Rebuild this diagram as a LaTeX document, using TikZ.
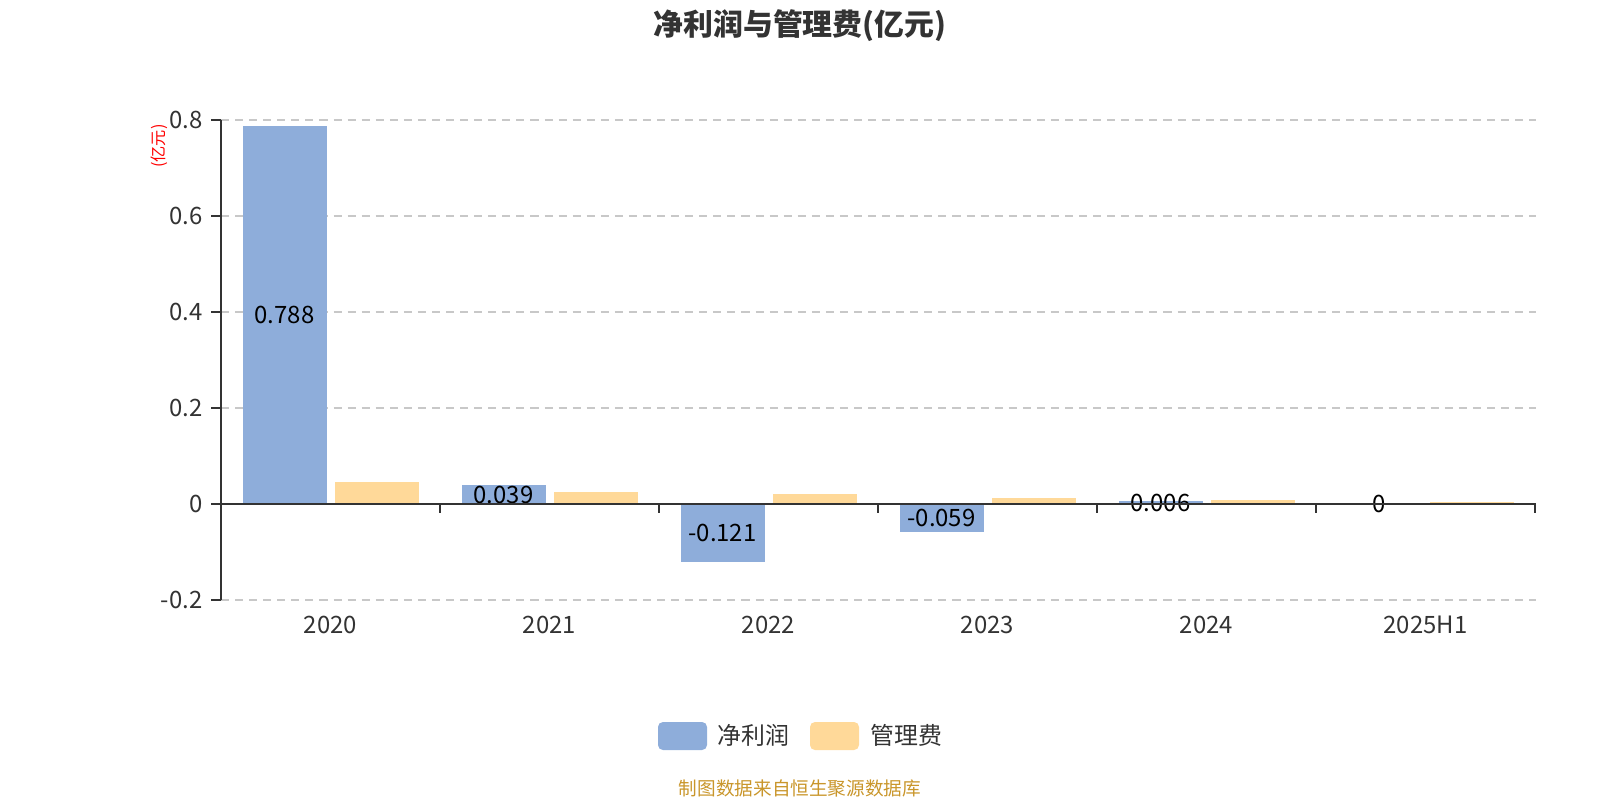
\documentclass[tikz,border=0pt]{standalone}
\usepackage{fontspec}
\setmainfont{Noto Sans CJK SC}
\usepackage{tikz}

\definecolor{netblue}{HTML}{8EADDA}
\definecolor{feeorange}{HTML}{FFD999}
\definecolor{axisgray}{HTML}{333333}
\definecolor{gridgray}{HTML}{C8C8C8}
\definecolor{footgold}{HTML}{C9962B}

\tikzset{
  gridline/.style={gridgray, line width=0.45pt, dash pattern=on 2.3pt off 1.7pt},
  axisline/.style={axisgray, line width=0.6pt},
  ticklabel/.style={text=axisgray, inner sep=0pt, font=\fontsize{6.8}{8}\selectfont},
  vallabel/.style={text=black, inner sep=0pt, font=\fontsize{6.8}{8}\selectfont},
  legendbox/.style={rounded corners=1.4pt},
}

\begin{document}
\begin{tikzpicture}[x=0.01cm, y=-0.01cm]  % one unit is one pixel, y runs down
    \useasboundingbox (0,0) rectangle (1600,800);

    % Title and unit
    \node[text=axisgray, font=\bfseries\fontsize{8.5}{10}\selectfont] (title) at (800,26) {净利润与管理费(亿元)};
    \node[text=red, rotate=90, inner sep=0pt, font=\fontsize{4.6}{5}\selectfont] (unit) at (159,146) {(亿元)};

    % Dashed grid lines
    \foreach \v in {-0.2,0.2,0.4,0.6,0.8} {
        \draw[gridline] (221,{504-480*\v}) -- (1536,{504-480*\v});
    }

    % Bars, value labels and years
    \foreach \c/\p/\f/\yr [count=\i] in {330.5/0.788/0.045/2020, 549.5/0.039/0.024/2021,
        768.5/-0.121/0.021/2022, 987.5/-0.059/0.0125/2023, 1206.5/0.006/0.008/2024,
        1425.5/0/0.0045/2025H1} {
        \fill[netblue] ({\c-88},504) rectangle ({\c-4},{504-480*\p});
        \fill[feeorange] ({\c+4},504) rectangle ({\c+88},{504-480*\f});
        \node[vallabel] (val\i) at ({\c-46},{504-240*\p}) {\p};
        \node[ticklabel] (year\i) at (\c,625) {\yr};
    }

    % Axes with tick marks
    \draw[axisline] (221,120) -- (221,600);
    \draw[axisline] (221,504) -- (1536,504);
    \foreach \v in {-0.2,0,0.2,0.4,0.6,0.8} {
        \draw[axisline] (211,{504-480*\v}) -- (221,{504-480*\v});
        \node[ticklabel, anchor=east] (ytick\v) at (203,{504-480*\v}) {\v};
    }
    \foreach \k in {0,...,6} {
        \draw[axisline] ({221+219*\k},504) -- ({221+219*\k},513);
    }

    % Legend
    \fill[netblue, legendbox] (658,722) rectangle (707,750);
    \node[ticklabel, anchor=west] (legnet) at (717,735) {净利润};
    \fill[feeorange, legendbox] (810,722) rectangle (859,750);
    \node[ticklabel, anchor=west] (legfee) at (870,735) {管理费};

    % Source line
    \node[text=footgold, font=\fontsize{5.3}{6}\selectfont] (source) at (800,788) {制图数据来自恒生聚源数据库};
\end{tikzpicture}
\end{document}
